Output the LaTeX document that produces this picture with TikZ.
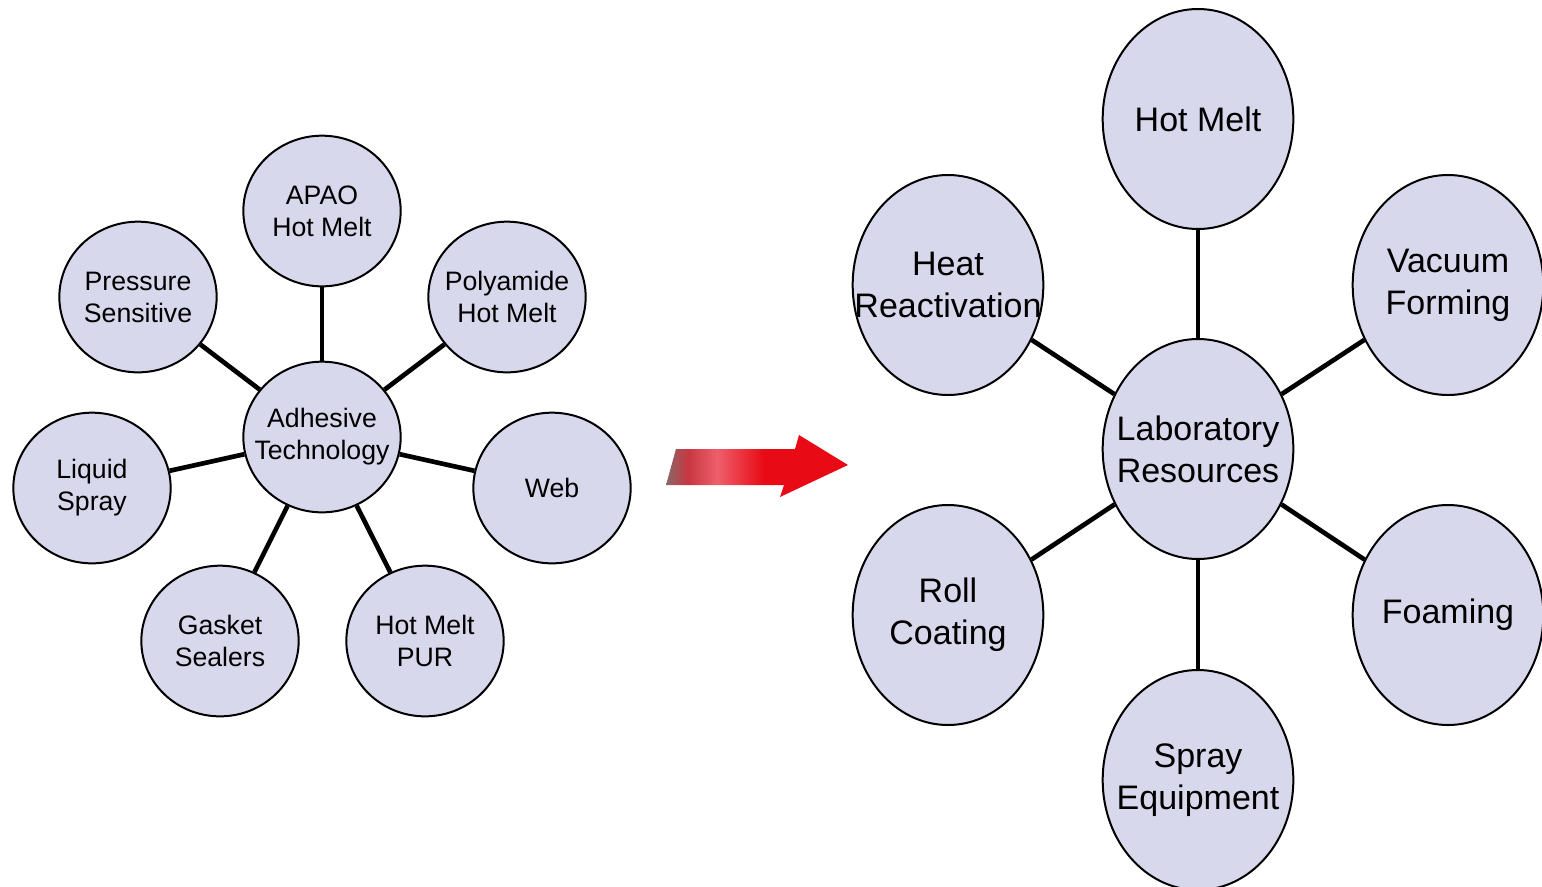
\documentclass[tikz,border=0pt]{standalone}
\usepackage{fontspec}
\setmainfont{Liberation Sans}
\usetikzlibrary{shapes.geometric}
\definecolor{bubfill}{RGB}{216,216,236}
\definecolor{arrgray}{RGB}{135,105,105}
\definecolor{arrdark}{RGB}{200,55,65}
\definecolor{arrpink}{RGB}{238,95,108}
\definecolor{arrred}{RGB}{232,10,20}
\pgfdeclarehorizontalshading{arrowshade}{100bp}{color(0bp)=(arrgray); color(25bp)=(arrgray); color(31bp)=(arrdark); color(39bp)=(arrpink); color(52bp)=(arrred); color(100bp)=(arrred)}

\begin{document}
\begin{tikzpicture}[x=0.75pt,y=-0.75pt,
  sbub/.style={ellipse,draw,line width=1.5pt,fill=bubfill,minimum width=118pt,minimum height=113pt,inner xsep=-15pt,inner ysep=-10pt,align=center,font=\fontsize{20}{24}\selectfont},
  bbub/.style={ellipse,draw,line width=1.5pt,fill=bubfill,minimum width=143pt,minimum height=165pt,inner xsep=-25pt,inner ysep=-10pt,align=center,font=\fontsize{25.5}{31.5}\selectfont},
  spoke/.style={line width=3.5pt}]
\useasboundingbox (0,0) rectangle (1542,886);
% left cluster
\node[sbub] (adh) at (322,437) {Adhesive\\Technology};
\node[sbub] (apao) at (322,211) {APAO\\Hot Melt};
\node[sbub] (pres) at (138,297) {Pressure\\Sensitive};
\node[sbub] (poly) at (507,297) {Polyamide\\Hot Melt};
\node[sbub] (liq) at (92,488) {Liquid\\Spray};
\node[sbub] (web) at (552,488) {Web};
\node[sbub] (gask) at (220,641) {Gasket\\Sealers};
\node[sbub] (pur) at (425,641) {Hot Melt\\PUR};
\foreach \n in {apao,pres,poly,liq,web,gask,pur} \draw[spoke] (adh) -- (\n);
% arrow
\shade[shading=arrowshade]
  (676,449) -- (795,449) -- (799,435) -- (848,465) -- (780,497) -- (784,485) -- (666,485) -- cycle;
% right cluster
\node[bbub] (lab) at (1198,449) {Laboratory\\Resources};
\node[bbub] (hot) at (1198,119) {Hot Melt};
\node[bbub] (heat) at (948,285) {Heat\\Reactivation};
\node[bbub] (vac) at (1448,285) {Vacuum\\Forming};
\node[bbub] (roll) at (948,615) {Roll\\Coating};
\node[bbub] (foam) at (1448,615) {Foaming};
\node[bbub] (spray) at (1198,780) {Spray\\Equipment};
\foreach \n in {hot,heat,vac,roll,foam,spray} \draw[spoke] (lab) -- (\n);
\end{tikzpicture}
\end{document}
